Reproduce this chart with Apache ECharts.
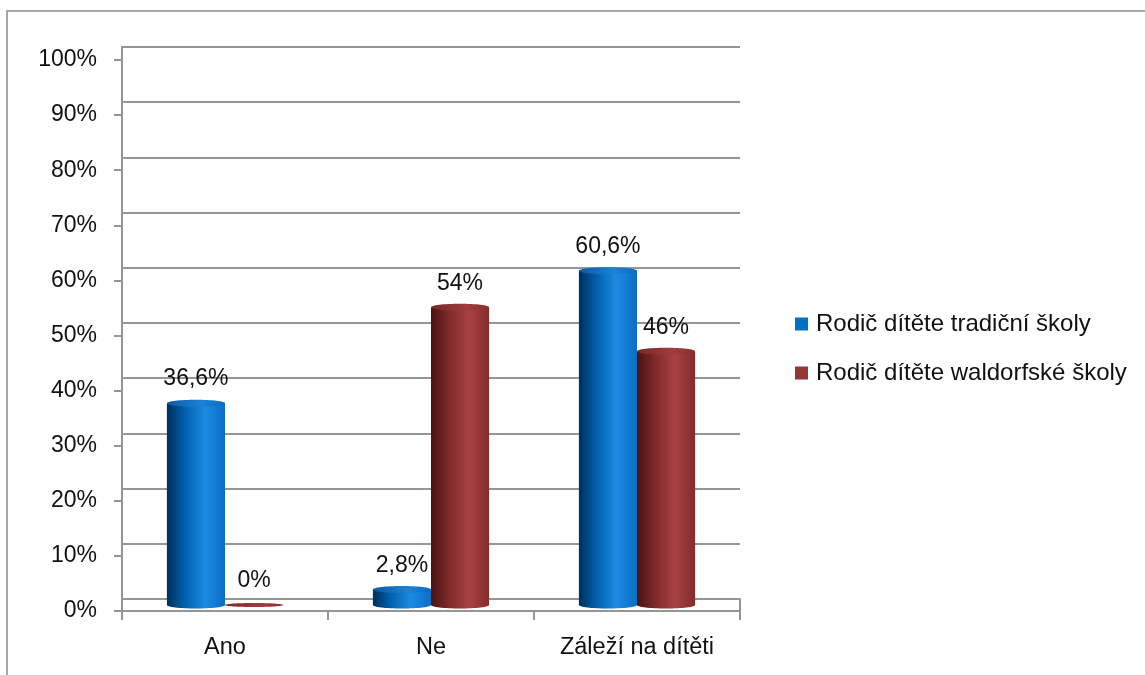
<!DOCTYPE html>
<html>
<head>
<meta charset="utf-8">
<script src="https://cdn.jsdelivr.net/npm/echarts@6/dist/echarts.min.js"></script>
<style>html,body{margin:0;padding:0;background:#fff;}#c{width:1145px;height:675px;}</style>
</head>
<body>
<div id="c"></div>
<script>
const categories = ['Ano', 'Ne', 'Záleží na dítěti'];
const seriesNames = ['Rodič dítěte tradiční školy', 'Rodič dítěte waldorfské školy'];
const traditional = [36.6, 2.8, 60.6];
const waldorf = [0, 54, 46];
const yTickValues = [0, 10, 20, 30, 40, 50, 60, 70, 80, 90, 100];

const FONT = 'Liberation Sans';
const GRID_L = 122, GRID_R = 405;
const chart = echarts.init(document.getElementById('c'));

function fmt(v) { return String(v).replace('.', ',') + '%'; }

const palettes = [
  { body: [[0, '#002e5c'], [0.3, '#0060ad'], [0.65, '#1d8ae2'], [1, '#0a6ec4']],
    top: [[0, '#0a5aa4'], [0.6, '#1a82d6'], [1, '#0c6cc0']], legend: '#0070C0' },
  { body: [[0, '#4a1212'], [0.3, '#7e2828'], [0.65, '#a84242'], [1, '#862b2b']],
    top: [[0, '#7a2626'], [0.6, '#a03c3c'], [1, '#8a2e2e']], legend: '#953735' }
];

function grad(stops) {
  return new echarts.graphic.LinearGradient(0, 0, 1, 0, stops.map(s => ({ offset: s[0], color: s[1] })));
}

function renderCyl(params, api) {
  const si = params.seriesIndex;
  const ci = api.value(0), v = api.value(1);
  const top = api.coord([ci, v]);
  const base = api.coord([ci, 0]);
  const catW = api.size([1, 0])[0];
  const w = catW * 0.282;
  const cx = top[0] + (si === 0 ? -w / 2 : w / 2);
  const ry = v === 0 ? 2 : 3.5;
  const p = palettes[si];
  const children = [];
  if (v > 0) {
    children.push({ type: 'ellipse', shape: { cx: cx, cy: base[1], rx: w / 2, ry: ry }, style: { fill: grad(p.body) } });
    children.push({ type: 'rect', shape: { x: cx - w / 2, y: top[1], width: w, height: base[1] - top[1] }, style: { fill: grad(p.body) } });
  }
  children.push({ type: 'ellipse', shape: { cx: cx, cy: top[1], rx: w / 2, ry: ry }, style: { fill: grad(p.top) } });
  children.push({ type: 'text', style: { text: fmt(v), x: cx, y: top[1] - 24, align: 'center', verticalAlign: 'middle', fontSize: 23, fontFamily: FONT, fill: '#111' } });
  return { type: 'group', children: children };
}

const gridLine = { color: '#959595', width: 2 };

const option = {
  animation: false,
  graphic: [{ type: 'rect', silent: true, shape: { x: 7, y: 11, width: 1400, height: 900 }, style: { fill: 'none', stroke: '#8c8c8c', lineWidth: 1.5 } }],
  legend: {
    orient: 'vertical', left: 795, top: 312, padding: 0, itemWidth: 13, itemHeight: 13, itemGap: 25,
    icon: 'rect',
    textStyle: { fontSize: 24, fontFamily: FONT, color: '#111', lineHeight: 24, padding: [0, 0, 0, 3] },
    data: seriesNames
  },
  grid: [
    { left: GRID_L, right: GRID_R, top: 47, bottom: 675 - 599 },
    { left: GRID_L, right: GRID_R, top: 60, bottom: 675 - 611 },
    { left: GRID_L, right: GRID_R, top: 53.5, bottom: 675 - 605 },
    { left: GRID_L, right: GRID_R, top: 599, bottom: 675 - 611 }
  ],
  xAxis: [
    { gridIndex: 0, type: 'category', data: categories, show: false },
    { gridIndex: 1, type: 'category', data: categories,
      axisLine: { show: true, lineStyle: gridLine },
      axisTick: { show: true, length: 9, lineStyle: gridLine },
      axisLabel: { fontSize: 23.5, fontFamily: FONT, color: '#111', margin: 25 } },
    { gridIndex: 2, type: 'category', data: categories, show: false },
    { gridIndex: 3, type: 'category', data: categories, show: false }
  ],
  yAxis: [
    { gridIndex: 0, type: 'value', min: 0, max: 100, interval: 10,
      axisLine: { show: true, lineStyle: gridLine }, axisTick: { show: false }, axisLabel: { show: false },
      splitLine: { show: true, lineStyle: gridLine } },
    { gridIndex: 1, type: 'value', min: 0, max: 100, interval: 10,
      axisLine: { show: true, lineStyle: gridLine },
      axisTick: { show: true, length: 8, lineStyle: gridLine },
      splitLine: { show: false },
      axisLabel: { fontSize: 23, fontFamily: FONT, color: '#111', margin: 25,
        formatter: function (v) { return yTickValues.indexOf(v) >= 0 ? v + '%' : ''; } } },
    { gridIndex: 2, type: 'value', min: 0, max: 100, show: false },
    { gridIndex: 3, type: 'value', position: 'right', min: 0, max: 1,
      axisLine: { show: true, lineStyle: gridLine }, axisTick: { show: false }, axisLabel: { show: false }, splitLine: { show: false } }
  ],
  series: [
    { name: seriesNames[0], type: 'custom', xAxisIndex: 2, yAxisIndex: 2, renderItem: renderCyl,
      itemStyle: { color: palettes[0].legend }, encode: { x: 0, y: 1 },
      data: traditional.map((v, i) => [i, v]) },
    { name: seriesNames[1], type: 'custom', xAxisIndex: 2, yAxisIndex: 2, renderItem: renderCyl,
      itemStyle: { color: palettes[1].legend }, encode: { x: 0, y: 1 },
      data: waldorf.map((v, i) => [i, v]) }
  ]
};
chart.setOption(option);
</script>
</body>
</html>
